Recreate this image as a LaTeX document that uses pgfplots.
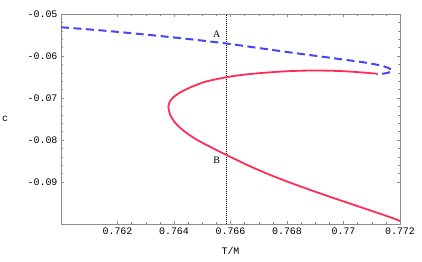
\documentclass[border=0pt]{standalone}
\usepackage{pgfplots}
\pgfplotsset{compat=1.18}
\usepackage{fontspec}
\setmainfont{Liberation Serif}
\setmonofont{Liberation Mono}
\definecolor{fr}{RGB}{140,140,140}
\definecolor{bl}{RGB}{70,70,245}
\definecolor{rd}{RGB}{255,45,85}
\begin{document}
\begin{tikzpicture}
\begin{axis}[
  scale only axis, width=339bp, height=210bp,
  xmin=0.760, xmax=0.772, ymin=-0.1, ymax=-0.05,
  xtick={0.762,0.764,0.766,0.768,0.770,0.772},
  xticklabels={0.762,0.764,0.766,0.768,0.77,0.772},
  ytick={-0.09,-0.08,-0.07,-0.06,-0.05},
  yticklabels={-0.09,-0.08,-0.07,-0.06,-0.05},
  minor x tick num=3, minor y tick num=4,
  tick align=inside,
  major tick length=3bp, minor tick length=1.8bp,
  axis line style={fr, line width=0.6pt},
  every tick/.style={fr, line width=0.5pt},
  tick label style={font=\ttfamily\fontsize{10}{12}\selectfont, black},
  clip=false,
]
\addplot[black, dash pattern=on 0.8bp off 1.2bp, line width=0.35pt] coordinates {(0.76583,-0.1) (0.76583,-0.05)};
\addplot[bl, line width=2bp, dash pattern=on 8bp off 4.5bp, smooth, tension=0.5] coordinates {
(0.7600,-0.05315) (0.7615,-0.05395) (0.7630,-0.05490) (0.7645,-0.05595) (0.7658,-0.05698)
(0.7670,-0.05810) (0.7680,-0.05905) (0.7690,-0.05995) (0.7700,-0.06085) (0.7708,-0.06160)
(0.7714,-0.06240) (0.77165,-0.06305) (0.77172,-0.06350) (0.77155,-0.06405) (0.77118,-0.06436)
};
\addplot[rd, line width=1.8bp, smooth, tension=0.5] coordinates {
(0.77118,-0.06421) (0.77047,-0.06382) (0.7700,-0.06362) (0.7695,-0.06350) (0.7690,-0.06346)
(0.7685,-0.06350) (0.7678,-0.06370) (0.76700,-0.06410) (0.76640,-0.06450) (0.76590,-0.06500)
(0.76518,-0.06600) (0.76475,-0.06700) (0.76441,-0.06800) (0.76414,-0.06900) (0.76395,-0.07000)
(0.76384,-0.07100) (0.76380,-0.07200) (0.763864,-0.07400) (0.764056,-0.07600) (0.764376,-0.07800)
(0.764824,-0.08000) (0.76539,-0.08200) (0.76599,-0.08400) (0.76661,-0.08600) (0.76729,-0.08800)
(0.76805,-0.09000) (0.76887,-0.09200) (0.76973,-0.09400) (0.77061,-0.09600) (0.77149,-0.09800)
(0.7720,-0.09925)
};
\node[font=\fontsize{10}{12}\selectfont] at (axis cs:0.76551,-0.05492) {A};
\node[font=\fontsize{10}{12}\selectfont] at (axis cs:0.76551,-0.08493) {B};
\end{axis}
\node[font=\ttfamily\fontsize{10}{12}\selectfont] at ([xshift=-56bp]current axis.west) {c};
\node[font=\ttfamily\fontsize{10}{12}\selectfont] at ([yshift=-26.7bp]current axis.south) {T/M};
\pgfresetboundingbox
\path ([shift={(-61bp,-38bp)}]current axis.south west) rectangle ([shift={(22bp,14bp)}]current axis.north east);
\end{tikzpicture}
\end{document}
